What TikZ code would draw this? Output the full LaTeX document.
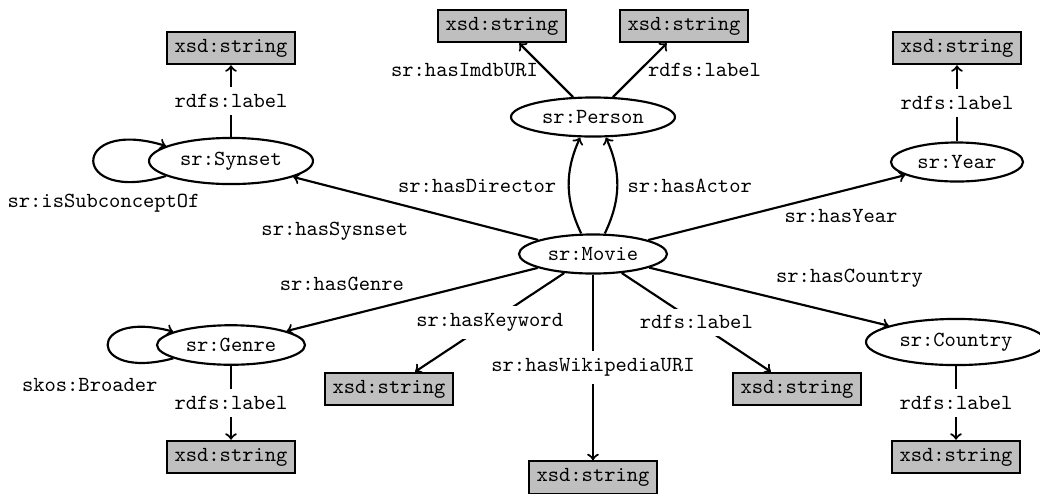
\documentclass[tikz,border=0pt]{standalone}
\usetikzlibrary{shapes.geometric}

\begin{document}
\begin{tikzpicture}[x=0.465pt,y=-0.465pt,
  font=\ttfamily,
  class/.style={ellipse,draw,line width=1pt},
  literal/.style={rectangle,draw,line width=1pt,fill=gray!50},
  rel/.style={->,line width=1pt},
  onedge/.style={fill=white},
]
\useasboundingbox (0,0) rectangle (1040,493);

% classes
\node[class] (movie)   at (593,254) {sr:Movie};
\node[class] (person)  at (593,117) {sr:Person};
\node[class] (synset)  at (231,161) {sr:Synset};
\node[class] (year)    at (957,162) {sr:Year};
\node[class] (genre)   at (231,345) {sr:Genre};
\node[class] (country) at (956,342) {sr:Country};

% literals
\node[literal] (synlab)  at (231,48)    {xsd:string};
\node[literal] (imdb)    at (502,26)    {xsd:string};
\node[literal] (perlab)  at (684,26)    {xsd:string};
\node[literal] (yearlab) at (957,48)    {xsd:string};
\node[literal] (keyword) at (389,389)   {xsd:string};
\node[literal] (movlab)  at (797,389)   {xsd:string};
\node[literal] (wiki)    at (593,477.5) {xsd:string};
\node[literal] (genlab)  at (231,457)   {xsd:string};
\node[literal] (coulab)  at (956,457)   {xsd:string};

% synset
\draw[rel] (synset) -- node[onedge] {rdfs:label} (synlab);
\draw[rel] (synset.193) to[out=197,in=163,distance=47pt]
  node[below=11.6pt,xshift=4.7pt] {sr:isSubconceptOf} (synset.167);

% person
\draw[rel] ([xshift=-5.5pt]movie.north) to[bend left=25]
  node[left=2pt] {sr:hasDirector} ([xshift=-6pt]person.south);
\draw[rel] ([xshift=5.5pt]movie.north) to[bend right=25]
  node[right=1pt] {sr:hasActor} ([xshift=6pt]person.south);
\draw[rel] (person) -- node[left] {sr:hasImdbURI} (imdb);
\draw[rel] (person) -- node[right] {rdfs:label} (perlab);

% year
\draw[rel] (movie) -- node[pos=0.75,below=4.5pt] {sr:hasYear} (year);
\draw[rel] (year) -- node[onedge] {rdfs:label} (yearlab);

% movie to the left
\draw[rel] (movie) -- node[pos=0.83,below=12pt] {sr:hasSysnset} (synset);
\draw[rel] (movie) -- node[pos=0.78,above=8.5pt] {sr:hasGenre} (genre);

% genre
\draw[rel] (genre.193) to[out=195,in=165,distance=42pt]
  node[below=11.9pt,xshift=-8.4pt] {skos:Broader} (genre.167);
\draw[rel] (genre) -- node[onedge] {rdfs:label} (genlab);

% movie literals
\draw[rel] (movie) -- node[onedge] {sr:hasKeyword} (keyword);
\draw[rel] (movie) -- node[onedge] {sr:hasWikipediaURI} (wiki);
\draw[rel] (movie) -- node[onedge] {rdfs:label} (movlab);

% country
\draw[rel] (movie) -- node[pos=0.836,above=9.5pt] {sr:hasCountry} (country);
\draw[rel] (country) -- node[onedge] {rdfs:label} (coulab);
\end{tikzpicture}
\end{document}
